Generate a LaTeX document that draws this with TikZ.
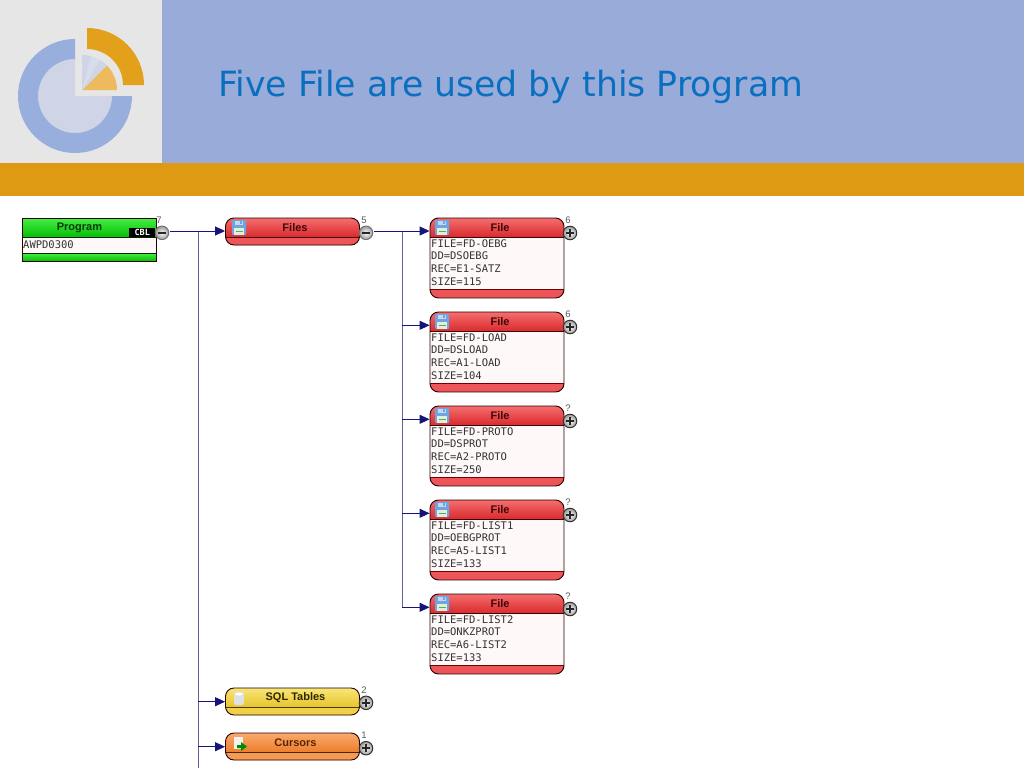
\documentclass[tikz,border=0pt]{standalone}
\usepackage{fontspec}
\setmainfont{Liberation Sans}
\setmonofont{DejaVu Sans Mono}
\newfontfamily\titlefont{DejaVu Sans}
\usetikzlibrary{arrows.meta}
\definecolor{bandblue}{HTML}{98ABD9}
\definecolor{panelgrey}{HTML}{E6E6E6}
\definecolor{bandorange}{HTML}{DF9A14}
\definecolor{titleblue}{HTML}{0B6FC0}
\definecolor{ringblue}{HTML}{98AEDD}
\definecolor{discpale}{HTML}{CFD5E6}
\definecolor{logoorange}{HTML}{E3A01B}
\definecolor{pieorange}{HTML}{EDBB5E}
\definecolor{navyline}{HTML}{14147A}
\definecolor{trunkline}{HTML}{6060A0}
\definecolor{redtop}{HTML}{F56E6E}
\definecolor{redbot}{HTML}{DA2A2E}
\definecolor{redfoot}{HTML}{EE5558}
\definecolor{bodypink}{HTML}{FFF8F8}
\definecolor{greentop}{HTML}{44F044}
\definecolor{greenbot}{HTML}{08BC08}
\definecolor{yellowtop}{HTML}{F8E678}
\definecolor{yellowbot}{HTML}{E8C42C}
\definecolor{yellowfoot}{HTML}{F0D048}
\definecolor{orangetop}{HTML}{FAAA6C}
\definecolor{orangebot}{HTML}{EC7E2E}
\definecolor{orangefoot}{HTML}{F59A50}
\definecolor{floppyblue}{HTML}{6FA4E2}
\definecolor{floppyslot}{HTML}{C4D8F2}
\definecolor{floppylabel}{HTML}{E4EEDC}
\definecolor{textgreen}{HTML}{063A06}
\definecolor{textred}{HTML}{3E0606}
\definecolor{textyellow}{HTML}{2E2600}
\definecolor{textorange}{HTML}{5A2400}
\newcommand{\gradstrip}[4]{%
  \foreach \k in {0,...,#4}{%
    \pgfmathsetmacro\gp{\k*100/#4}%
    \fill[#2!\gp!#1] ([yshift={-(#3+\k)*1pt}]path picture bounding box.north west) rectangle ++(134,1.2);%
  }}
\tikzset{
  x=1pt,y=-1pt,
  boxline/.style={draw=black!85!red,line width=.9pt},
  link/.style={draw=navyline,line width=.9pt},
  trunk/.style={draw=trunkline,line width=1.2pt},
  arrowlink/.style={link,-{Triangle[length=10pt,width=9pt,fill=navyline]}},
  titletext/.style={font=\titlefont\fontsize{34.7}{36}\selectfont,text=titleblue,anchor=west,inner sep=0pt},
  headtext/.style={font=\bfseries\fontsize{11}{12}\selectfont,inner sep=0pt},
  monotext/.style={font=\ttfamily\fontsize{10.5}{12}\selectfont,text=black!80,anchor=west,inner sep=0pt},
  counttext/.style={font=\fontsize{9.5}{10}\selectfont,text=black!65,inner sep=0pt},
  cbltext/.style={font=\ttfamily\bfseries\fontsize{8.5}{10}\selectfont,text=white,fill=black,inner sep=0pt,minimum width=26pt,minimum height=9pt},
  btn/.style={circle,draw=black!80,line width=1pt,inner color=white,outer color=black!40,minimum size=13.5pt,inner sep=0pt},
  pluswave/.style={line width=1.7pt,draw=black!85},
  programbox/.style={boxline,rectangle,minimum width=134pt,minimum height=43pt,inner sep=0pt,fill=bodypink,
    path picture={
      \gradstrip{greentop}{greenbot}{0}{19}
      \fill[bodypink] ([yshift=-20pt]path picture bounding box.north west) rectangle ++(134,15);
      \gradstrip{greentop}{greenbot}{35}{8}
      \draw[black!85!green,line width=.9pt] ([yshift=-19.5pt]path picture bounding box.north west) -- ++(134,0);
      \draw[black!85!green,line width=.9pt] ([yshift=-35pt]path picture bounding box.north west) -- ++(134,0);
    }},
  filebox/.style={boxline,rectangle,rounded corners=8.5pt,minimum width=134pt,minimum height=80pt,inner sep=0pt,fill=bodypink,
    path picture={
      \begin{scope}[sharp corners]
      \gradstrip{redtop}{redbot}{0}{19}
      \fill[redfoot] ([yshift=-71pt]path picture bounding box.north west) rectangle ++(134,9);
      \draw[black!75!red,line width=.9pt] ([yshift=-19.5pt]path picture bounding box.north west) -- ++(134,0);
      \draw[black!55!red,line width=.9pt] ([yshift=-71pt]path picture bounding box.north west) -- ++(134,0);
      \end{scope}
    }},
  groupbox/.style args={#1/#2/#3}{boxline,rectangle,rounded corners=8.5pt,minimum width=134pt,minimum height=27pt,inner sep=0pt,fill=#3,
    path picture={
      \begin{scope}[sharp corners]
      \gradstrip{#1}{#2}{0}{19}
      \fill[#3] ([yshift=-19.5pt]path picture bounding box.north west) rectangle ++(134,8);
      \draw[black!70!#2,line width=1pt] ([yshift=-19.5pt]path picture bounding box.north west) -- ++(134,0);
      \end{scope}
    }},
  floppy/.pic={
    \fill[floppyblue,rounded corners=1pt] (0,0) rectangle (14,15);
    \fill[floppyslot] (3,0.5) rectangle (11,5);
    \fill[floppyblue] (7.5,1) rectangle (10,4);
    \fill[floppylabel] (2,8) rectangle (12,14.5);
    \draw[green!40!gray,line width=.6pt] (3.5,11) -- (10.5,11);
  },
}
\newcommand{\plusmark}[1]{\draw[pluswave] ([xshift=-4pt]#1.center) -- ([xshift=4pt]#1.center); \draw[pluswave] ([yshift=-4pt]#1.center) -- ([yshift=4pt]#1.center);}
\newcommand{\minusmark}[1]{\draw[pluswave] ([xshift=-4pt]#1.center) -- ([xshift=4pt]#1.center);}
\begin{document}
\begin{tikzpicture}
\useasboundingbox (0,0) rectangle (1024,768);
\fill[white] (0,0) rectangle (1024,768);
\fill[bandblue] (0,0) rectangle (1024,163);
\fill[panelgrey] (0,0) rectangle (162,163);
\fill[bandorange] (0,163) rectangle (1024,196);
\node[titletext] (title) at (218,87) {Five File are used by this Program};
% logo
\begin{scope}[shift={(75,96)},yscale=-1]
  \fill[discpale] (0,0) -- (0,37) arc[start angle=90,end angle=360,radius=37] -- cycle;
  \fill[ringblue] (0,57) arc[start angle=90,end angle=360,radius=57] -- (37,0) arc[start angle=360,end angle=90,radius=37] -- cycle;
\end{scope}
\begin{scope}[shift={(87,85)},yscale=-1]
  \fill[logoorange] (0,57) arc[start angle=90,end angle=0,radius=57] -- (36,0) arc[start angle=0,end angle=90,radius=36] -- cycle;
\end{scope}
\begin{scope}[shift={(82,90)},yscale=-1]
  \fill[pieorange] (0,0) -- (35,0) arc[start angle=0,end angle=45,radius=35] -- cycle;
  \fill[discpale] (0,0) -- (45:35) arc[start angle=45,end angle=60,radius=35] -- cycle;
  \fill[discpale!80!white] (0,0) -- (60:35) arc[start angle=60,end angle=75,radius=35] -- cycle;
  \fill[discpale] (0,0) -- (75:35) arc[start angle=75,end angle=90,radius=35] -- cycle;
\end{scope}
% program
\node[programbox] (prog) at (89,239.5) {};
\node[headtext,text=textgreen] (progh) at (79.5,228) {Program};
\node[monotext] (progt) at (23,244.5) {AWPD0300};
\node[cbltext] (cbl) at (142.3,232.5) {CBL};
\node[btn,draw=black!55] (bprog) at (162,232.8) {};
\minusmark{bprog}
\node[counttext] (cprog) at (159,220) {7};
\coordinate (rprog) at (170,231);
% files
\node[groupbox={redtop/redbot/redfoot}] (files) at (292.5,231.5) {};
\node[headtext,text=textred] (filesh) at (295,228) {Files};
\pic at (232,220) {floppy};
\node[btn,draw=black!55] (bfiles) at (366,232.8) {};
\minusmark{bfiles}
\node[counttext] (cfiles) at (364,220) {5};
\coordinate (rfiles) at (374,231);
% file boxes
\foreach \i/\y/\n/\a/\b/\c/\d in {
  1/218/6/FD-OEBG/DSOEBG/E1-SATZ/115,
  2/312/6/FD-LOAD/DSLOAD/A1-LOAD/104,
  3/406/?/FD-PROTO/DSPROT/A2-PROTO/250,
  4/500/?/FD-LIST1/OEBGPROT/A5-LIST1/133,
  5/594/?/FD-LIST2/ONKZPROT/A6-LIST2/133}{
  \node[filebox] (f\i) at (497,\y+40) {};
  \node[headtext,text=textred] (fh\i) at (500,\y+10) {File};
  \pic at (435,\y+2) {floppy};
  \node[monotext] (fa\i) at (431,\y+25.5) {FILE=\a};
  \node[monotext] (fb\i) at (431,\y+38) {DD=\b};
  \node[monotext] (fc\i) at (431,\y+51) {REC=\c};
  \node[monotext] (fd\i) at (431,\y+63.5) {SIZE=\d};
  \node[btn] (b\i) at (570,\y+15) {};
  \plusmark{b\i}
  \node[counttext] (n\i) at (568,\y+2.5) {\n};
  \coordinate (r\i) at (578,\y+13.3);
}
% sql and cursors
\node[groupbox={yellowtop/yellowbot/yellowfoot}] (sql) at (292.5,701.5) {};
\node[headtext,text=textyellow] (sqlh) at (295.5,698) {SQL Tables};
\fill[black!12,rounded corners=2pt] (234,692) rectangle (244,705);
\fill[white] (239,694) ellipse[x radius=4,y radius=1.5];
\node[btn] (bsql) at (366,702.8) {};
\plusmark{bsql}
\node[counttext] (csql) at (364,690) {2};
\coordinate (rsql) at (374,701.7);
\node[groupbox={orangetop/orangebot/orangefoot}] (cur) at (292.5,746.5) {};
\node[headtext,text=textorange] (curh) at (295.5,743) {Cursors};
\fill[white!90!gray] (234,737) rectangle (243,749);
\fill[green!55!black] (237,745) -- (241,745) -- (241,742) -- (247,746.5) -- (241,751) -- (241,748) -- (237,748) -- cycle;
\node[btn] (bcur) at (366,748.2) {};
\plusmark{bcur}
\node[counttext] (ccur) at (364,735) {1};
\coordinate (rcur) at (374,746.7);
% connectors
\coordinate (t1) at (198.3,231);
\coordinate (t2) at (402.3,231);
\coordinate (tend) at (198.3,768);
\draw[trunk] (t1) -- (tend);
\draw[trunk] (t2) -- (t2 |- r5);
\draw[arrowlink] (rprog) -- (rprog -| files.west);
\draw[arrowlink] (rfiles) -- (rfiles -| f1.west);
\foreach \i in {2,3,4,5}{
  \draw[arrowlink] (t2 |- r\i) -- (r\i -| f\i.west);
}
\draw[arrowlink] (t1 |- rsql) -- (rsql -| sql.west);
\draw[arrowlink] (t1 |- rcur) -- (rcur -| cur.west);
\end{tikzpicture}
\end{document}
